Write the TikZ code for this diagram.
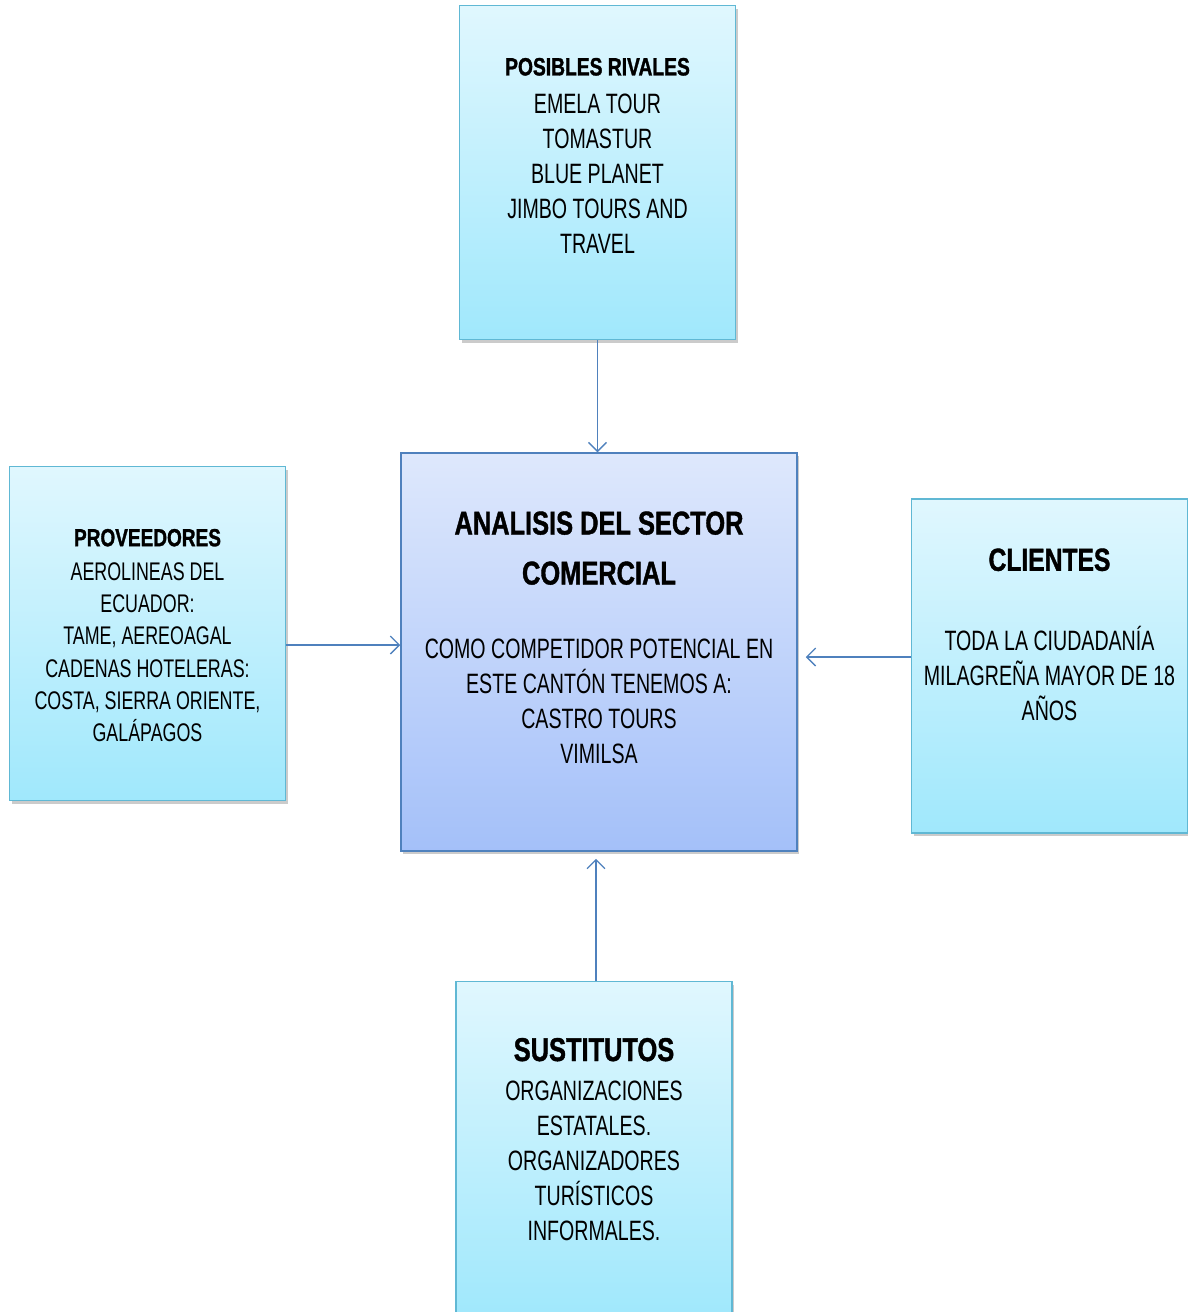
\documentclass[tikz,border=0pt]{standalone}
\usepackage{fontspec}
\setmainfont{Liberation Sans}[FakeStretch=0.7]
\newfontfamily\headfont{Liberation Sans}[FakeStretch=0.77, FakeBold=1.2]
\usepackage{tikz}
\usetikzlibrary{positioning,shadows,arrows.meta}
\definecolor{cyantop}{RGB}{224,247,254}
\definecolor{cyanbot}{RGB}{160,232,252}
\definecolor{cyanline}{RGB}{96,184,212}
\definecolor{bluetop}{RGB}{222,232,252}
\definecolor{bluebot}{RGB}{164,192,249}
\definecolor{blueline}{RGB}{79,129,189}
\newcommand{\bodyfont}{\fontsize{28}{35}\selectfont}
\newcommand{\Head}[2]{{\headfont\bfseries\fontsize{#1}{35}\selectfont #2}}

\begin{document}
\begin{tikzpicture}[x=1pt, y=-1pt,
    box/.style={draw=cyanline, line width=1.5pt, top color=cyantop, bottom color=cyanbot,
      minimum width=276pt, minimum height=334pt, inner sep=0pt,
      drop shadow={shadow xshift=2pt, shadow yshift=-3pt, fill=black!45, opacity=.45}},
    mainbox/.style={box, draw=blueline, top color=bluetop, bottom color=bluebot,
      minimum width=396pt, minimum height=398pt},
    txt/.style={inner sep=0pt, align=center, font=\bodyfont},
    conn/.style={draw=blueline, line width=1.3pt, -{Straight Barb[length=9pt,width=18pt]}}]
  \useasboundingbox (0,0) rectangle (1187,1312);

  % Boxes
  \node[mainbox] at (599,652) (ana) {};
  \node[box, above=112pt of ana, xshift=-1.5pt] (riv) {};
  \node[box, left=114pt of ana, yshift=18.5pt] (prov) {};
  \node[box, right=113pt of ana, yshift=-14pt] (cli) {};
  \node[box, below=129pt of ana, xshift=-5pt] (sus) {};

  % Texts
  \node[txt, below=53pt of riv.north] (rivtxt)
    {\Head{25}{POSIBLES RIVALES}\\[3pt]
     EMELA TOUR\\TOMASTUR\\BLUE PLANET\\JIMBO TOURS AND\\TRAVEL};
  \node[txt, below=59pt of ana.north] (anatxt)
    {\Head{33}{ANALISIS DEL SECTOR}\\[15pt]
     \Head{33}{COMERCIAL}\\[39pt]
     COMO COMPETIDOR POTENCIAL EN\\ESTE CANTÓN TENEMOS A:\\CASTRO TOURS\\VIMILSA};
  \node[txt, below=63pt of prov.north, font=\fontsize{25.5}{32.2}\selectfont] (provtxt)
    {\Head{24.7}{PROVEEDORES}\\[2pt]
     AEROLINEAS DEL\\ECUADOR:\\TAME, AEREOAGAL\\CADENAS HOTELERAS:\\COSTA, SIERRA ORIENTE,\\GALÁPAGOS};
  \node[txt, below=50pt of cli.north] (clitxt)
    {\Head{32}{CLIENTES}\\[45pt]
     TODA LA CIUDADANÍA\\MILAGREÑA MAYOR DE 18\\AÑOS};
  \node[txt, below=57pt of sus.north] (sustxt)
    {\Head{33}{SUSTITUTOS}\\[4pt]
     ORGANIZACIONES\\ESTATALES.\\ORGANIZADORES\\TURÍSTICOS\\INFORMALES.};

  % Connect the boxes
  \draw[conn] (riv.south) -- (riv.south |- ana.north);
  \draw[conn] ([yshift=-11.5pt]prov.east) -- ([yshift=7pt]ana.west);
  \draw[conn, shorten >=8pt] ([yshift=9pt]cli.west) -- ([yshift=-5pt]ana.east);
  \draw[conn, shorten >=7pt] ([xshift=2pt]sus.north) -- ([xshift=2pt]sus.north |- ana.south);
\end{tikzpicture}
\end{document}
